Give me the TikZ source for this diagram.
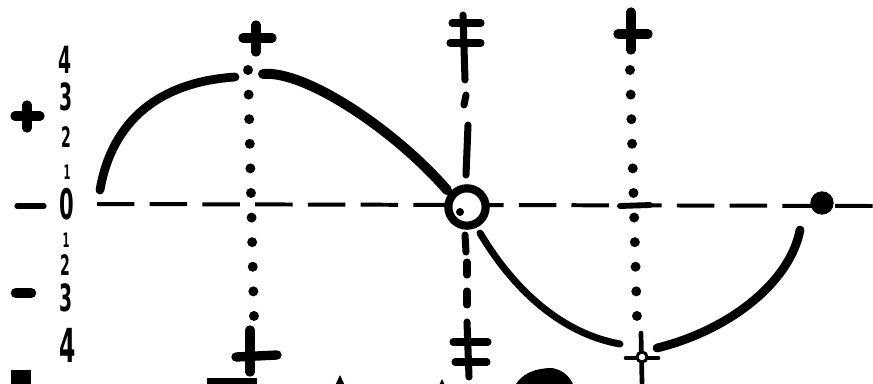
\documentclass[tikz,border=0pt]{standalone}
\usepackage{fontspec}
\setsansfont{DejaVu Sans}
\tikzset{
  wave/.style={line width=7.5pt, line cap=round},
  axisline/.style={line width=3.4pt, dash pattern=on 32pt off 13pt},
  dotline/.style={line width=8.5pt, line cap=round, dash pattern=on 0pt off 21pt},
  bar/.style={line width=6pt, line cap=round},
  crossmark/.style={line width=8pt, line cap=round},
  digit/.style={font=\sffamily\bfseries\fontsize{32}{32}\selectfont, xscale=0.5, inner sep=0pt},
  smalldigit/.style={digit, font=\sffamily\bfseries\fontsize{17}{17}\selectfont},
  middigit/.style={digit, font=\sffamily\bfseries\fontsize{24}{24}\selectfont},
}

\begin{document}
\begin{tikzpicture}[x=0.03cm, y=-0.03cm]

\clip (0,0) rectangle (873,383);

% axis
\draw[axisline] (97,204) -- (873,206);
\draw[crossmark, line width=4.5pt] (17,206) -- (44,206);

% left scale
\node[digit] (t4) at (65,60) {4};
\node[digit] (t3) at (66,97) {3};
\node[middigit] (t2) at (66,137) {2};
\node[smalldigit] (t1) at (67,172) {1};
\node[digit, font=\sffamily\bfseries\fontsize{36}{36}\selectfont] (o) at (67,204) {0};
\node[smalldigit] (b1) at (66,240) {1};
\node[middigit] (b2) at (65,265) {2};
\node[digit] (b3) at (66,298) {3};
\node[digit, font=\sffamily\bfseries\fontsize{40}{40}\selectfont] (b4) at (68,345) {4};

\draw[crossmark] (27,105) -- (27,128);
\draw[crossmark] (15,116) -- (40,116);
\draw[crossmark, line width=9pt] (16,293) -- (31,293);

% points of the wave
\coordinate (s) at (100,190);
\coordinate (p1) at (235,77);
\coordinate (p2) at (263,74);
\coordinate (z1) at (447,190);
\coordinate (z2) at (480,233);
\coordinate (q1) at (620,344);
\coordinate (q2) at (657,348);
\coordinate (e) at (800,230);

% first quarter verticals
\draw[dotline] (248,70) -- (254,318);
\draw[crossmark] (256,25) -- (256,52);
\draw[crossmark] (243,38) -- (272,38);
\draw[crossmark] (250,330) -- (250,372);
\draw[crossmark] (236,357) -- (277,355);

% middle vertical
\draw[bar] (463,15) -- (465,80);
\draw[bar] (452,23) -- (481,23);
\draw[bar] (450,43) -- (481,43);
\draw[bar] (466,95) -- (464,105);
\draw[bar] (468,125) -- (466,175);
\draw[bar] (465,235) -- (466,252);
\draw[bar] (467,262) -- (467,275);
\draw[bar] (467,291) -- (467,305);
\draw[bar] (467,322) -- (469,377);
\draw[bar] (453,342) -- (488,342);
\draw[bar] (455,362) -- (487,362);

% third quarter vertical
\draw[dotline] (630,70) -- (637,318);
\draw[crossmark] (631,12) -- (631,50);
\draw[crossmark] (618,34) -- (648,34);
\draw[crossmark, line width=5pt] (620,206) -- (650,205);
\draw[bar, line width=4pt] (641,333) -- (642,383);
\draw[bar, line width=4pt] (626,358) -- (658,358);
\draw[line width=2.5pt, fill=white] (642,357) circle (5);

% wave
\draw[wave] (s) .. controls (112,120) and (160,82) .. (p1);
\draw[wave, line width=8.5pt] (p2) .. controls (305,70) and (395,130) .. (z1);
\draw[wave, line width=6pt] (z2) .. controls (520,300) and (570,335) .. (q1);
\draw[wave] (q2) .. controls (730,330) and (790,282) .. (e);

\node[circle, draw, fill=white, line width=7pt, minimum size=1.12cm, inner sep=0pt] (zero) at (467,207) {};
\fill (460,212) circle (4);
\node[circle, fill, minimum size=0.7cm, inner sep=0pt] (end) at (822,203) {};

% cut off marks of the next line
\fill (11,370) rectangle (31,390);
\fill (207,378) rectangle (257,390);
\fill (333,390) -- (340,375) -- (347,390) -- cycle;
\fill (437,390) -- (442,379) -- (447,390) -- cycle;
\fill (513,390) .. controls (520,372) and (538,368) .. (552,368) .. controls (564,370) and (572,378) .. (575,390) -- cycle;

\end{tikzpicture}
\end{document}
